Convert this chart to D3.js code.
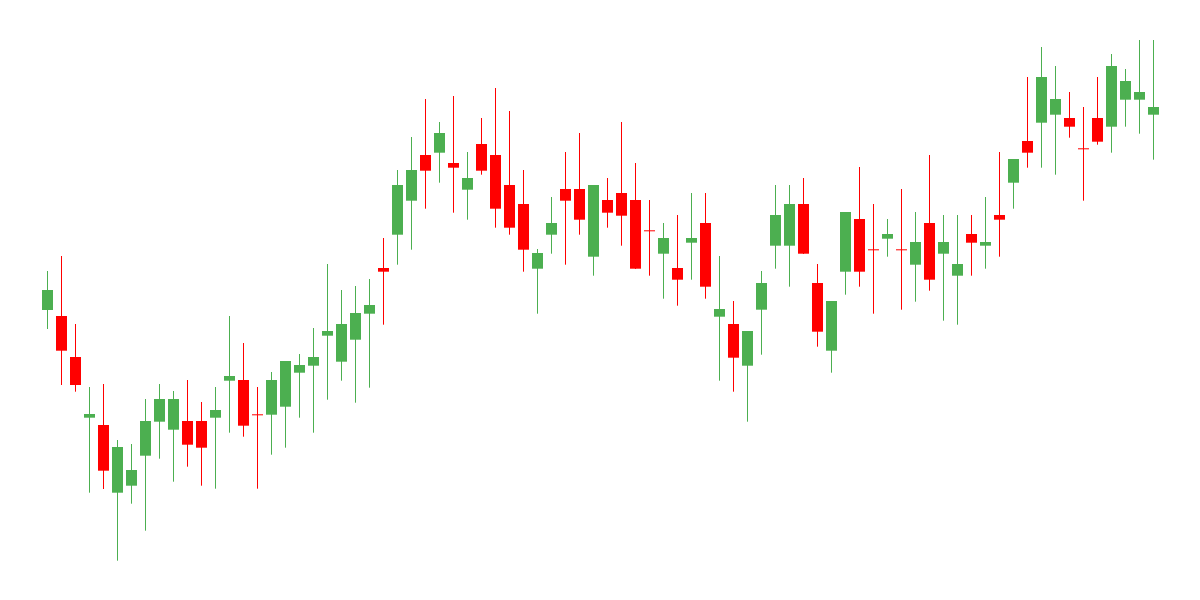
<!DOCTYPE html>
<html>
<head>
<meta charset="utf-8">
<script src="https://cdn.jsdelivr.net/npm/d3@7"></script>
<style>
html,body{margin:0;padding:0;background:#fff;}
svg{display:block;}
</style>
</head>
<body>
<svg id="chart" width="1200" height="600"></svg>
<script>
const openV  = [290,284,243,182.3,175,107.3,114.3,144.3,178.3,170.3,179,179,182.3,219.3,220,185.7,185.3,193.3,227.3,234.3,264.3,238.3,260.3,286.3,332,365.3,399.3,445,447.3,437,410.3,456,445,415,396,331.3,365.3,411,411,343.3,400,407,400,369.7,346.3,332,357.3,377,283.3,276,234.3,290.3,354.3,354.3,396,317,249.3,328.3,381,350.7,361.3,350.7,335.3,377,346.3,324.3,366,354.3,385,417.3,459,477.3,485.3,482,451.7,482,473.3,500.3,500.3,485.3];
const highV  = [329,344,276,213,216,160,156,201,216,209,220,198,213,284,257,213,228,239,246,272,336,310,314,321,362,430,463,501,478,504,448,482,512,489,430,351,403,448,467,415,422,478,437,400,377,385,407,407,344,299,269,329,415,415,422,336,299,388,433,396,381,411,388,445,385,385,385,403,448,441,523,553,534,508,493,523,546,531,560,560];
const lowV   = [271,215,208.3,107.3,111,39.3,96.3,69.3,141.3,118.3,133.3,114.3,111.3,167.3,163.3,111.3,145.3,152.3,182.3,167.3,200.3,219.3,197.3,212.3,275.3,335.3,350.3,391.3,417.3,387.3,380.3,425.3,372.3,365.3,328.3,286.3,346.3,335.3,365.3,324.3,372.3,354.3,331,324.3,301.3,294.3,320.3,301.3,219.3,208.3,178.3,245.3,331.3,313.3,346,253.3,227.3,305.3,313.3,286.3,343.3,290.3,298.3,309.3,279.3,275.3,324.3,331.3,343.3,391.3,432.3,432.3,425.3,462.3,399.3,455.3,447.3,473.3,466.3,440.3];
const closeV = [310,249.3,215,186,129.3,153,130,179,201,201,155.3,152.3,190,224,174.3,185.7,220,239,235,243,269,276,287,295,328.3,415,430,429.3,467,432.3,422,429.3,391.3,372.3,350.3,347,377,399.3,380.3,415,387.3,384.3,331.3,369.7,362,320.3,362,313.3,291,242.3,269,317,385,396,346.3,268.3,299,388,328.3,350.7,366,350.7,358,320.3,358,336,357.3,358,380.3,441,447.3,523,501,473.3,451.7,458.3,534,519,508,493];

const data = openV.map((o,i)=>({i, o, h: highV[i], l: lowV[i], c: closeV[i]}));

const svg = d3.select("#chart");
const x = d3.scaleBand()
  .domain(data.map(d=>d.i))
  .range([40.5, 1160.5])
  .paddingInner(3/14)
  .paddingOuter(1.5/14);
const y = d3.scaleLinear().domain([0,600]).range([600,0]);

const up = "#4caf50", down = "#ff0000";
const col = d => d.c > d.o ? up : down;
const bw = x.bandwidth();

const g = svg.append("g");
const candle = g.selectAll("g.candle").data(data).join("g").attr("class","candle");

candle.append("line")
  .attr("x1", d => x(d.i) + bw/2)
  .attr("x2", d => x(d.i) + bw/2)
  .attr("y1", d => y(d.h))
  .attr("y2", d => y(d.l))
  .attr("stroke", col)
  .attr("stroke-width", 1);

candle.append("rect")
  .attr("x", d => x(d.i))
  .attr("width", bw)
  .attr("y", d => y(Math.max(d.o,d.c)))
  .attr("height", d => Math.max(1, Math.abs(y(d.o)-y(d.c))))
  .attr("fill", col);
</script>
</body>
</html>
